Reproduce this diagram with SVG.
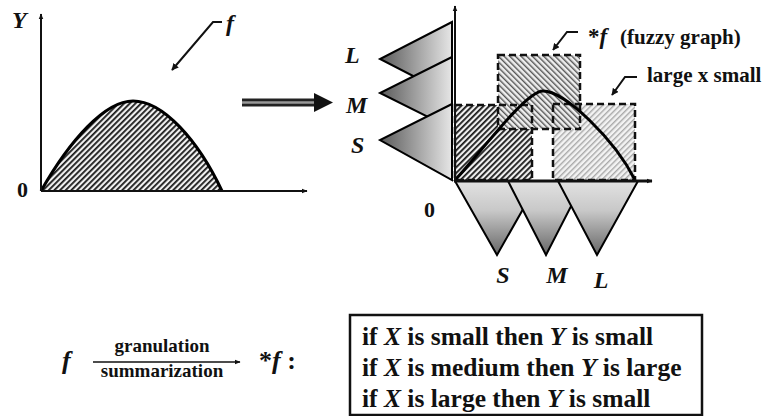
<svg xmlns="http://www.w3.org/2000/svg" width="762" height="416" viewBox="0 0 762 416">
<style>
.t{font-family:"Liberation Serif","Times New Roman","DejaVu Serif","Noto Serif",serif;font-weight:bold;fill:#111}
.i{font-style:italic}
.ax{stroke:#111;stroke-width:2;fill:none}
.cv{stroke:#000;stroke-width:3;fill:none}
.tri{stroke:#000;stroke-width:2;stroke-linejoin:miter}
.dash{fill:none;stroke:#111;stroke-width:2.5;stroke-dasharray:7 4}
.ld{fill:none;stroke:#111;stroke-width:2}
</style>
<defs>
<marker id="ah" viewBox="0 0 10 10" refX="9" refY="5" markerWidth="7" markerHeight="7" orient="auto" markerUnits="userSpaceOnUse"><path d="M0,0 L10,5 L0,10 z" fill="#111"/></marker>
<marker id="ahs" viewBox="0 0 10 10" refX="9" refY="5" markerWidth="6" markerHeight="6" orient="auto" markerUnits="userSpaceOnUse"><path d="M0,1 L10,5 L0,9 z" fill="#111"/></marker>
<linearGradient id="gh" x1="0" y1="0" x2="1" y2="0"><stop offset="0" stop-color="#5a5a5a"/><stop offset="1" stop-color="#e6e6e6"/></linearGradient>
<linearGradient id="gv" x1="0" y1="0" x2="0" y2="1"><stop offset="0" stop-color="#e2e2e2"/><stop offset="0.4" stop-color="#c8c8c8"/><stop offset="1" stop-color="#666"/></linearGradient>
<pattern id="hd" width="4" height="4" patternUnits="userSpaceOnUse" patternTransform="rotate(45)"><rect width="4" height="4" fill="#f0f0f0"/><rect width="1.8" height="4" fill="#1a1a1a"/></pattern>
<pattern id="hm" width="4" height="4" patternUnits="userSpaceOnUse" patternTransform="rotate(-45)"><rect width="4" height="4" fill="#eee"/><rect width="1.4" height="4" fill="#555"/></pattern>
<pattern id="hl" width="4" height="4" patternUnits="userSpaceOnUse" patternTransform="rotate(45)"><rect width="4" height="4" fill="#f3f3f3"/><rect width="1.4" height="4" fill="#a8a8a8"/></pattern>
</defs>

<g id="left-plot">
<path d="M41,191 C70,140 105,101 133,101 C163,101 198,140 222,191 Z" fill="url(#hd)"/>
<path class="cv" d="M41,191 C70,140 105,101 133,101 C163,101 198,140 222,191"/>
<line class="ax" x1="41" y1="191" x2="41" y2="14" marker-end="url(#ahs)"/>
<line class="ax" x1="41" y1="191" x2="307" y2="191" marker-end="url(#ahs)"/>
<text class="t i" x="12" y="28" font-size="24">Y</text>
<text class="t" x="17" y="197" font-size="22">0</text>
<text class="t i" x="226" y="31" font-size="24">f</text>
</g>

<g id="big-arrow">
<line x1="242" y1="102.5" x2="317" y2="102.5" stroke="#222" stroke-width="8"/>
<line x1="242" y1="102.5" x2="316" y2="102.5" stroke="#999" stroke-width="2.5"/>
<polygon points="314,93 333,102.5 314,112" fill="#111"/>
</g>

<g id="y-membership">
<polygon class="tri" points="452,22 380,59 452,96" fill="url(#gh)"/>
<polygon class="tri" points="452,57 380,93 452,129" fill="url(#gh)"/>
<polygon class="tri" points="452,104 380,140 452,180" fill="url(#gh)"/>
<text class="t i" x="345" y="63" font-size="24">L</text>
<text class="t i" x="346" y="113" font-size="24">M</text>
<text class="t i" x="351" y="153" font-size="24">S</text>
</g>

<g id="x-membership">
<polygon class="tri" points="455,181 497,255 539,181" fill="url(#gv)"/>
<polygon class="tri" points="508,181 546,255 584,181" fill="url(#gv)"/>
<polygon class="tri" points="558,181 597,255 638,181" fill="url(#gv)"/>
<text class="t i" x="503" y="283" font-size="24" text-anchor="middle">S</text>
<text class="t i" x="557" y="283" font-size="24" text-anchor="middle">M</text>
<text class="t i" x="601" y="288" font-size="24" text-anchor="middle">L</text>
</g>

<g id="fuzzy-graph">
<rect x="455" y="105" width="77" height="75" fill="url(#hd)"/>
<rect x="553" y="104" width="82" height="76" fill="url(#hl)"/>
<rect x="498" y="55" width="82" height="74" fill="url(#hm)"/>
<rect class="dash" x="455" y="105" width="77" height="75"/>
<rect class="dash" x="553" y="104" width="82" height="76"/>
<rect class="dash" x="498" y="55" width="82" height="74"/>
<path class="cv" d="M455,180 C475,160 525,91 543,91 C565,91 615,140 635,180"/>
</g>

<g id="right-axes">
<line class="ax" x1="455" y1="181" x2="455" y2="6" marker-end="url(#ahs)"/>
<line x1="454" y1="181" x2="652" y2="181" stroke="#111" stroke-width="3" marker-end="url(#ahs)"/>
<text class="t" x="424" y="217" font-size="22">0</text>
</g>

<g id="connectors">
<polyline class="ld" points="222,22 213,22 172,70" marker-end="url(#ah)"/>
<polyline class="ld" points="578,32 567,32 553,50" marker-end="url(#ah)"/>
<polyline class="ld" points="637,77 625,77 612,95" marker-end="url(#ah)"/>
</g>

<g id="labels">
<text class="t" x="588" y="44" font-size="23">*<tspan class="i">f</tspan></text>
<text class="t" x="620" y="44" font-size="21">(fuzzy graph)</text>
<text class="t" x="647" y="82" font-size="21">large x small</text>
</g>

<g id="formula">
<text class="t i" x="62" y="369" font-size="26">f</text>
<line x1="93" y1="362" x2="240" y2="362" stroke="#111" stroke-width="1.6" marker-end="url(#ahs)"/>
<text class="t" x="162" y="352" font-size="19" text-anchor="middle">granulation</text>
<text class="t" x="162" y="377" font-size="19" text-anchor="middle">summarization</text>
<text class="t" x="259" y="369" font-size="26">*<tspan class="i">f</tspan> :</text>
</g>

<g id="rules">
<rect x="350" y="315" width="352" height="100" fill="#fff" stroke="#111" stroke-width="2.5"/>
<text class="t" x="362" y="345" font-size="25.5">if <tspan class="i">X</tspan> is small then <tspan class="i">Y</tspan> is small</text>
<text class="t" x="362" y="376" font-size="25.5">if <tspan class="i">X</tspan> is medium then <tspan class="i">Y</tspan> is large</text>
<text class="t" x="362" y="407" font-size="25.5">if <tspan class="i">X</tspan> is large then <tspan class="i">Y</tspan> is small</text>
</g>
</svg>
